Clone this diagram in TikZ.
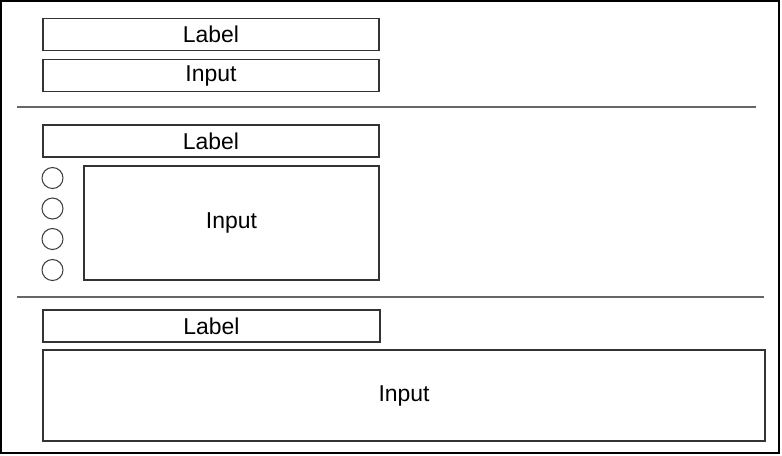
\documentclass[tikz,border=0pt]{standalone}
\usepackage{fontspec}
\setmainfont{Liberation Sans}
\usepackage{tikz}

\tikzset{
	fld/.style={draw=black!80, line width=0.8pt, rectangle, inner sep=0pt, font=\fontsize{17.2}{18}\selectfont},
	opt/.style={draw=black!75, line width=0.8pt, circle, inner sep=0pt, minimum size=15.75pt},
	sep/.style={draw=black!60, line width=1.3pt}
}

\begin{document}
\begin{tikzpicture}[x=0.75pt, y=-0.75pt]
					\useasboundingbox (0,0) rectangle (782,455);
					\draw[black, line width=1.5pt] (1,1) rectangle (779,453);
					
					\def\lw{252pt}
					\def\lh{24.5pt}
					
					% first block
					\node[fld, minimum width=\lw, minimum height=\lh] (lab1) at (211,34.5) {Label};
					\node[fld, minimum width=\lw, minimum height=\lh] (inp1) at (211,75.5) {Input};
					
					\draw[sep] (17,107) -- (756,107);
					
					% second block
					\node[fld, minimum width=\lw, minimum height=24pt] (lab2) at (211,141) {Label};
					\node[fld, minimum width=221.25pt, minimum height=85.5pt] (inp2) at (231.5,223) {Input};
					\foreach \i/\y in {1/178,2/208.5,3/239,4/270}
						\node[opt] (rb\i) at (52.5,\y) {};
					
					\draw[sep] (17,297) -- (764,297);
					
					% third block
					\node[fld, minimum width=252.75pt, minimum height=24pt] (lab3) at (211.5,326) {Label};
					\node[fld, minimum width=541.5pt, minimum height=68.25pt] (inp3) at (404,395.5) {Input};
				\end{tikzpicture}
\end{document}
